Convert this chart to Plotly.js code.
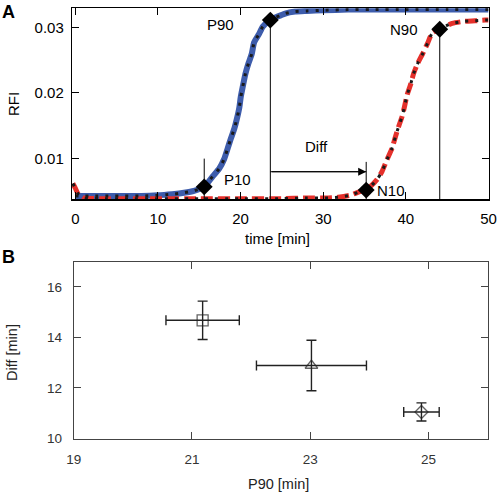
<!DOCTYPE html>
<html>
<head>
<meta charset="utf-8">
<script src="https://cdn.plot.ly/plotly-3.0.1.min.js"></script>
<style>html,body{margin:0;padding:0;background:#fff}#chart{width:500px;height:493px}</style>
</head>
<body>
<div id="chart"></div>
<script>
// ---- Panel A: RFI time courses ----
var timeP = [0, 2, 4, 6, 8, 10, 11, 12, 13.15, 14.36, 15.58, 16.63, 17.43, 18.0, 18.45, 18.81, 19.25, 19.54, 19.85, 20.02, 20.27, 20.58, 20.95, 21.36, 21.64, 22.24, 22.69, 23.58, 25.39, 26.6, 28, 30, 33, 36, 40, 45, 50];
var rfiP = [0.0043, 0.0043, 0.0043, 0.0043, 0.0043, 0.0044, 0.0045, 0.0046, 0.0048, 0.0051, 0.0057, 0.0073, 0.0085, 0.0099, 0.0116, 0.0130, 0.0146, 0.0160, 0.0178, 0.0194, 0.0210, 0.0229, 0.0245, 0.0260, 0.0277, 0.0290, 0.0301, 0.0311, 0.0321, 0.0324, 0.0325, 0.0326, 0.0327, 0.0327, 0.0327, 0.0327, 0.0327];
var timeN = [-0.3, 0, 0.4, 1, 3, 6, 10, 15, 20, 25, 28, 30.6, 31.8, 33.2, 34.5, 35.3, 36.5, 37.1, 37.7, 38.33, 38.73, 39.13, 39.54, 39.85, 40.15, 40.55, 40.95, 41.43, 42.04, 42.64, 43.18, 44.18, 45.6, 47.0, 48.4, 49.6, 50];
var rfiN = [0.0062, 0.0055, 0.0045, 0.0040, 0.0039, 0.0039, 0.0039, 0.0039, 0.0039, 0.0039, 0.0040, 0.0040, 0.0041, 0.0044, 0.0050, 0.0053, 0.0068, 0.0080, 0.0098, 0.0116, 0.0133, 0.0149, 0.0164, 0.0180, 0.0197, 0.0212, 0.0230, 0.0245, 0.0260, 0.0276, 0.0291, 0.0298, 0.0306, 0.0309, 0.0310, 0.0311, 0.0311];

var keyNames = ['P10', 'P90', 'N10', 'N90'];
var keyTime = [15.6, 23.6, 35.2, 44.1];
var keyRfi = [0.0057, 0.0311, 0.0052, 0.0297];
var keyLineTop = [0.0100, 0.0311, 0.0095, 0.0297];
var diffLevel = 0.0080;

var xTicksA = [0, 10, 20, 30, 40, 50];
var yTicksA = [0.01, 0.02, 0.03];

// ---- Panel B: Diff vs P90 ----
var p90 = [21.18, 23.02, 24.88];
var p90Err = [0.62, 0.93, 0.30];
var diffVal = [14.68, 12.89, 11.05];
var diffErr = [0.76, 1.00, 0.36];
var symbolsB = ['square-open', 'triangle-up-open', 'diamond-open'];
var xTicksB = [19, 21, 23, 25];
var yTicksB = [10, 12, 14, 16];

var yBottomA = 0.0038;

// vertical guide lines built from the key points
var vx = [], vy = [];
for (var i = 0; i < keyTime.length; i++) {
  vx.push(keyTime[i], keyTime[i], null);
  vy.push(yBottomA, keyLineTop[i], null);
}

var W = 500, H = 493;
function px(x) { return x / W; }
function py(y) { return 1 - y / H; }

var traces = [
  {x: timeP, y: rfiP, xaxis: 'x', yaxis: 'y', mode: 'lines', line: {color: '#3d5cab', width: 6, shape: 'spline', smoothing: 0.6}, hoverinfo: 'skip'},
  {x: timeN, y: rfiN, xaxis: 'x', yaxis: 'y', mode: 'lines', line: {color: '#e5302b', width: 5, dash: '12px,5px', shape: 'spline', smoothing: 0.6}, hoverinfo: 'skip'},
  {x: timeP, y: rfiP, xaxis: 'x', yaxis: 'y', mode: 'lines', line: {color: '#1a1a1a', width: 3, dash: '3px,7px', shape: 'spline', smoothing: 0.6}, hoverinfo: 'skip'},
  {x: timeN, y: rfiN, xaxis: 'x', yaxis: 'y', mode: 'lines', line: {color: '#1a1a1a', width: 3, dash: '3px,7px', shape: 'spline', smoothing: 0.6}, hoverinfo: 'skip'},
  {x: vx, y: vy, xaxis: 'x', yaxis: 'y', mode: 'lines', line: {color: '#000', width: 1}, connectgaps: false, hoverinfo: 'skip'},
  {x: [keyTime[1], keyTime[2]], y: [diffLevel, diffLevel], xaxis: 'x', yaxis: 'y', mode: 'lines', line: {color: '#000', width: 1}, hoverinfo: 'skip'},
  {x: keyTime, y: keyRfi, xaxis: 'x', yaxis: 'y', mode: 'markers', marker: {symbol: 'diamond', size: 13, color: '#000'}, text: keyNames, hoverinfo: 'text'},
  {x: p90, y: diffVal, xaxis: 'x2', yaxis: 'y2', mode: 'markers',
   marker: {symbol: symbolsB, size: [11, 11, 10], color: '#222', line: {color: '#222', width: 1.3}},
   error_x: {type: 'data', array: p90Err, visible: true, color: '#222', thickness: 1.4, width: 5},
   error_y: {type: 'data', array: diffErr, visible: true, color: '#222', thickness: 1.4, width: 5}}
];

var fontA = {family: 'Liberation Sans, Arial, sans-serif', size: 15, color: '#000'};
var fontB = {family: 'Liberation Sans, Arial, sans-serif', size: 13.5, color: '#333'};
var fontBT = {family: 'Liberation Sans, Arial, sans-serif', size: 14.5, color: '#222'};
var fontPanel = {family: 'Liberation Sans, Arial, sans-serif', size: 18, color: '#000'};

function paperText(x, y, text, font, angle) {
  return {xref: 'paper', yref: 'paper', x: px(x), y: py(y), text: text, showarrow: false,
          xanchor: 'center', yanchor: 'middle', font: font, textangle: angle || 0};
}

var layout = {
  width: W, height: H,
  margin: {l: 0, r: 0, t: 0, b: 0},
  paper_bgcolor: '#fff', plot_bgcolor: '#fff',
  showlegend: false,
  xaxis: {domain: [px(72), px(488.5)], range: [-0.4, 50], tickvals: xTicksA, ticktext: xTicksA.map(String),
          ticks: 'inside', ticklen: 7, tickcolor: '#000', showline: true, linecolor: '#000', linewidth: 1.2, mirror: 'ticks',
          showgrid: false, zeroline: false, tickfont: fontA, ticklabelstandoff: 5, anchor: 'y'},
  yaxis: {domain: [py(199.3), py(8.3)], range: [yBottomA, 0.0329], tickvals: yTicksA, ticktext: yTicksA.map(function(v){return v.toFixed(2);}),
          ticks: 'inside', ticklen: 7, tickcolor: '#000', showline: true, linecolor: '#000', linewidth: 1.2, mirror: 'ticks',
          showgrid: false, zeroline: false, tickfont: fontA, ticklabelstandoff: 4, anchor: 'x'},
  xaxis2: {domain: [px(73.7), px(487.7)], range: [19, 26], tickvals: xTicksB, ticktext: xTicksB.map(String),
          ticks: 'inside', ticklen: 7, tickcolor: '#444', showline: true, linecolor: '#444', linewidth: 1, mirror: 'ticks',
          showgrid: false, zeroline: false, tickfont: fontB, ticklabelstandoff: 8, anchor: 'y2'},
  yaxis2: {domain: [py(438.5), py(261.7)], range: [10, 17], tickvals: yTicksB, ticktext: yTicksB.map(String),
          ticks: 'inside', ticklen: 7, tickcolor: '#444', showline: true, linecolor: '#444', linewidth: 1, mirror: 'ticks',
          showgrid: false, zeroline: false, tickfont: fontB, ticklabelstandoff: 8, anchor: 'x2'},
  annotations: [
    {xref: 'x', yref: 'y', x: keyTime[2], y: diffLevel, ax: keyTime[1], ay: diffLevel, axref: 'x', ayref: 'y',
     text: '', showarrow: true, arrowhead: 2, arrowsize: 1.6, arrowwidth: 1, arrowcolor: '#000', standoff: 0},
    {xref: 'x', yref: 'y', x: 17.6, y: 0.0305, text: 'P90', showarrow: false, font: fontA, xanchor: 'center', yanchor: 'middle'},
    {xref: 'x', yref: 'y', x: 19.6, y: 0.0068, text: 'P10', showarrow: false, font: fontA, xanchor: 'center', yanchor: 'middle'},
    {xref: 'x', yref: 'y', x: 38.2, y: 0.0052, text: 'N10', showarrow: false, font: fontA, xanchor: 'center', yanchor: 'middle'},
    {xref: 'x', yref: 'y', x: 39.8, y: 0.0297, text: 'N90', showarrow: false, font: fontA, xanchor: 'center', yanchor: 'middle'},
    {xref: 'x', yref: 'y', x: 29.2, y: 0.0119, text: 'Diff', showarrow: false, font: fontA, xanchor: 'center', yanchor: 'middle'},
    paperText(8, 12, '<b>A</b>', fontPanel),
    paperText(8, 257, '<b>B</b>', fontPanel),
    paperText(13, 104, 'RFI', fontA, -90),
    paperText(277, 239, 'time [min]', fontA),
    paperText(12, 353, 'Diff [min]', fontBT, -90),
    paperText(278, 484, 'P90 [min]', fontBT)
  ]
};

Plotly.newPlot('chart', traces, layout, {staticPlot: true, displayModeBar: false});
</script>
</body>
</html>
